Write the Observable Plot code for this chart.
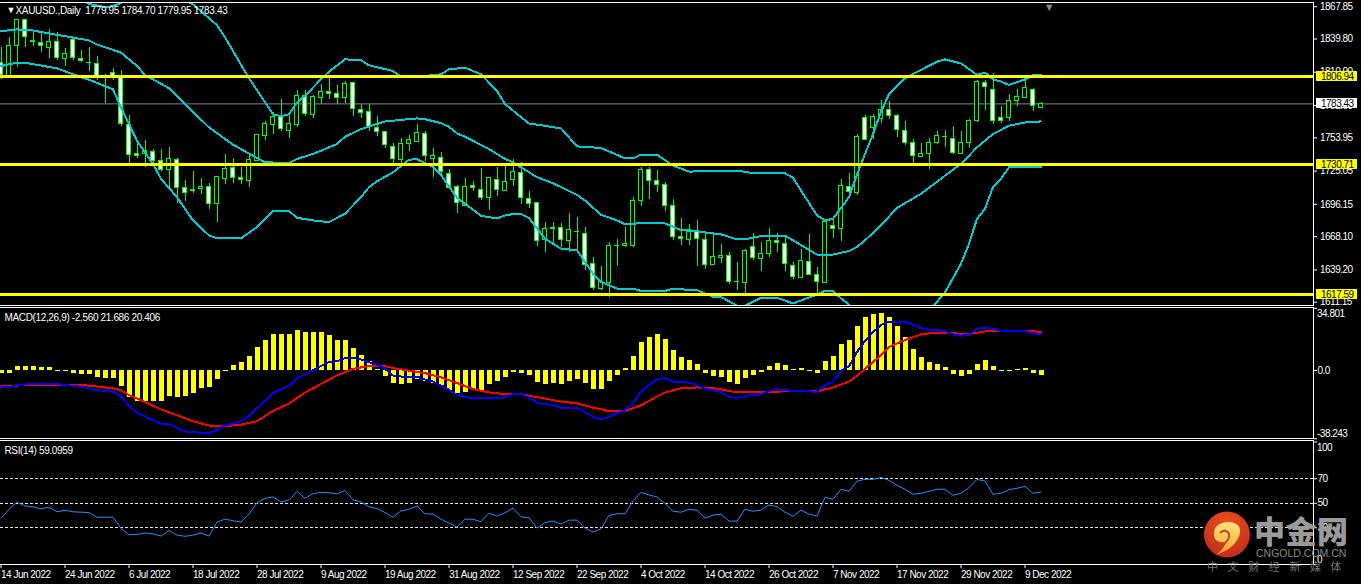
<!DOCTYPE html>
<html><head><meta charset="utf-8">
<script src="https://cdn.jsdelivr.net/npm/d3@7"></script>
<script src="https://cdn.jsdelivr.net/npm/@observablehq/plot@0.6"></script>
<style>
html,body{margin:0;padding:0;background:#000;overflow:hidden;}
#chart{position:relative;width:1361px;height:584px;background:#000;}
#chart svg{display:block;background:transparent!important;}
#wm{position:absolute;left:0;top:0;pointer-events:none;}
.w{position:absolute;white-space:nowrap;font-family:"Noto Sans CJK SC",sans-serif;}
.hd{letter-spacing:-0.35px;}
</style></head><body>
<div id="chart"></div>
<script>
const FONT='"Liberation Sans",sans-serif';
const opens=[1819.2,1807.7,1833.7,1856.7,1838,1836.5,1832.2,1837.4,1822.1,1838.6,
1822.1,1818.9,1817.8,1806.6,1810.6,1805.7,1765,1739.9,1739.9,1741.3,
1733.5,1726,1734.7,1710.5,1708.3,1709.6,1711,1696.6,1718.3,1727.8,
1719.1,1716.2,1734.1,1755.2,1765,1772.2,1759.5,1765,1790.4,1773.4,
1788.4,1794.1,1791.8,1788.4,1801.3,1778.5,1776,1762.4,1758.9,1745.7,
1734.4,1748.5,1750,1757.2,1735.6,1736.4,1722.6,1711,1694.6,1712.2,
1708.7,1701.8,1717.4,1707.6,1717.4,1723.4,1700.9,1697.5,1665.5,1675.3,
1675.6,1664.6,1671.9,1670.7,1644.7,1622.2,1628.2,1660.3,1659.9,1660.3,
1698.9,1726,1716.2,1712.8,1694.6,1668.1,1664.9,1672.7,1665.4,1643.8,
1649.9,1651.3,1628.9,1627.4,1659.1,1648.7,1653,1664.6,1661.7,1642.9,
1632.3,1646.4,1634.9,1628.2,1677.3,1675,1711,1705.8,1770.8,1762.1,
1770.2,1777.7,1772.8,1759.5,1749.1,1737.3,1739.6,1749.4,1754.7,1752.6,
1739.6,1749.4,1768.2,1801.9,1795.9,1770.8,1770.8,1786.3,1788.9,1795.9,
1779.95];
const closes=[1808.6,1833.7,1855.9,1841.4,1837.1,1833.7,1837.4,1823,1826.4,1823,
1820.4,1818.6,1806.8,1806.2,1807.4,1765.9,1739,1737.9,1742.2,1733.5,
1726,1735.6,1710.2,1706.1,1708.1,1711,1696.6,1719.7,1726.9,1719.1,
1717.4,1734.7,1756.3,1765.9,1772.2,1761.5,1765.9,1790.7,1774.5,1789.2,
1794.1,1791.8,1788.9,1800.5,1778.8,1775.4,1763,1758.9,1747.7,1735.6,
1748.5,1752,1758.1,1737.9,1737.9,1724,1710.5,1697.5,1711,1710.5,
1701.8,1719.1,1708.7,1715.7,1724.3,1701.8,1696.6,1664.6,1675,1675.1,
1665.2,1674.1,1671.7,1643.8,1623.9,1628.8,1660.3,1660.1,1662,1698.9,
1726,1716.5,1713.1,1694.9,1668.1,1666,1673.5,1666.3,1643.8,1650.7,
1651.6,1629.1,1628.7,1655.9,1649.9,1653.3,1664.6,1662.6,1644.7,1633.4,
1647.3,1634.9,1629.1,1681,1675,1712.2,1707,1754.6,1752,1771.9,
1778,1772.8,1760.7,1749.4,1738.2,1739.6,1749.1,1755.2,1754.5,1740.8,
1749.1,1768.4,1802.8,1797.9,1768.2,1768.2,1786.3,1789.2,1797,1781.4,
1783.43];
const highs=[1832.2,1841.4,1856.7,1856.7,1845.8,1845.2,1848.1,1845.2,1831.6,1838.6,
1829.9,1832.8,1825,1809.1,1814.3,1812,1773.1,1750,1752,1744.2,
1744.2,1745.7,1735.6,1716.8,1724.6,1718.3,1714.5,1719.7,1739.3,1736.4,
1727.8,1739.9,1757.2,1768.2,1776,1787.5,1773.1,1794.7,1795.3,1790.4,
1800.5,1807.7,1799,1802.5,1801.3,1782.6,1782.6,1772.2,1758.9,1749.4,
1753.7,1755.8,1765.3,1759.2,1745.1,1741,1726.3,1712.5,1718.3,1715.9,
1727.2,1719.1,1728.4,1729.2,1735,1732.1,1707.3,1698,1680.2,1680.2,
1679.3,1688,1684.5,1675.9,1649.9,1642.4,1663.4,1665.7,1676.1,1701.8,
1728.4,1727.8,1725.5,1715.1,1700.4,1683.9,1678.7,1682.2,1670.7,1670.1,
1661.1,1654.5,1645.8,1656.8,1671.2,1663.4,1675.6,1670.7,1667.8,1645.8,
1657.1,1670.1,1641.2,1682.2,1682.8,1717.4,1722.6,1757.2,1773.1,1774.5,
1786.6,1785.2,1774.5,1767.9,1752.9,1749.4,1753.7,1759.2,1760.7,1763.5,
1759.2,1770.2,1803.9,1803.9,1810,1780.9,1791.2,1795.6,1805.1,1797,
1784.7];
const lows=[1804.8,1806.8,1814.9,1832.8,1833.7,1827.9,1823,1821.2,1816.3,1820.7,
1819.2,1811.4,1803.4,1783.7,1803.9,1764.1,1731.8,1735.6,1728.4,1731.2,
1724.9,1711,1697.2,1698.9,1705.8,1704.7,1691.7,1680.7,1713.1,1714.5,
1713.3,1711,1733.5,1751.4,1757.2,1759.5,1753.5,1763,1772.2,1770.5,
1783.2,1787.2,1783.2,1783.7,1772.5,1770.8,1759.2,1754.9,1744.8,1729.8,
1729.8,1741.9,1750,1733.3,1719.7,1722,1709.6,1688.5,1694.3,1707.3,
1699.5,1690.8,1703,1707.6,1711.9,1696,1692.9,1659.7,1653.9,1660,
1659.1,1653.9,1656.2,1638.9,1621,1621,1615,1641.8,1659.1,1659.1,
1694.6,1700.4,1706.7,1690.3,1664.9,1660.6,1660.6,1641.8,1639.8,1643.8,
1644.7,1626.8,1621.6,1617.8,1647.6,1638,1649.6,1654.5,1638,1631.1,
1631.7,1634,1617.3,1628.2,1666.9,1664.3,1703.8,1703.8,1751.4,1752.3,
1766.4,1769.9,1754.3,1747.1,1731.2,1737.3,1726.6,1748.5,1745.7,1739.3,
1739.6,1744.8,1767.3,1777.4,1765.9,1766.4,1768.2,1781.1,1788.9,1776.5,
1779.95];

// Bollinger band vertices: [bar, price]
const bbUpper=[[10,1874],[11,1870.3],[12,1868.9],[13,1867.4],[14,1868.3],[15,1871.2],[16,1874],[23,1874],[24,1869.7],[25,1864],[27,1851.8],[28,1841.4],[29,1829.3],[31,1805.7],[34,1774.5],[35,1772.5],[36,1774.5],[37,1784.6],[38,1790.4],[40,1804.8],[41,1811.4],[43,1822.1],[45,1821.5],[46,1816.9],[49,1812],[50,1807.1],[53,1807.7],[55,1809.1],[56,1813.5],[58,1814.9],[60,1809.1],[62,1794.7],[63,1783.2],[66,1766.4],[68,1764.4],[70,1762.1],[72,1746.5],[75,1745.1],[78,1736.1],[79,1736.1],[80,1739.3],[82,1739.3],[84,1729.8],[86,1724.6],[92,1725.5],[94,1723.2],[98,1723.2],[99,1719.1],[102,1686.5],[103,1682.2],[104,1683.6],[106,1702.4],[107,1722],[108,1739.9],[109,1757.2],[110,1776.5],[111,1791.8],[113,1805.7],[117,1820.1],[118,1822.1],[120,1818.6],[122,1808.6],[123,1810.6],[124,1804.8],[125,1802.8],[126,1799.9],[128,1804.8],[129,1808.3],[130,1808.3]];
const bbMiddle=[[0,1846.6],[2,1848.1],[4,1847.2],[6,1844.6],[11,1838.6],[12,1835.1],[15,1827.9],[17,1816.3],[18,1808.6],[19,1804.8],[21,1797],[23,1783.2],[26,1763],[29,1748],[32,1736.4],[33,1732.7],[36,1732.1],[37,1735.6],[39,1739.9],[42,1748.5],[43,1754.9],[45,1761.5],[46,1763.8],[48,1768.2],[52,1770.8],[53,1770.2],[55,1766.7],[56,1763.5],[57,1757.8],[58,1754.9],[61,1744.2],[63,1735.6],[64,1732.7],[67,1719.7],[69,1714.5],[72,1704.4],[73,1699.5],[75,1687.1],[77,1682.2],[78,1679],[79,1679],[80,1680.2],[83,1679.6],[85,1673.8],[87,1672.7],[90,1670.1],[92,1665.7],[93,1665.7],[95,1668.6],[98,1668.9],[99,1664.9],[102,1652.5],[104,1652.5],[106,1655.6],[107,1659.1],[108,1664.9],[110,1677.9],[112,1693.1],[115,1705.3],[118,1721.1],[120,1731.2],[122,1745.7],[124,1757.2],[126,1764.4],[128,1767.3],[130,1768.2]];
const bbLower=[[0,1816.3],[2,1819.2],[3,1819.2],[7,1814.3],[9,1809.1],[11,1804.5],[14,1796.1],[15,1780.3],[17,1751.4],[19,1731.2],[20,1718.3],[22,1702.4],[24,1682.2],[26,1669.2],[27,1666.6],[30,1666.6],[32,1676.4],[34,1690.3],[36,1690.3],[37,1684.5],[39,1682.2],[41,1680.7],[43,1688],[44,1695.2],[45,1702.4],[46,1711],[47,1716.2],[49,1724],[51,1735],[52,1735.3],[54,1728.9],[55,1721.7],[57,1701.8],[60,1686.2],[62,1683.9],[63,1686.5],[64,1687.7],[65,1687.7],[66,1684.2],[68,1666.3],[70,1657.7],[72,1656.2],[74,1636],[75,1628.8],[77,1623],[79,1622.8],[80,1621],[83,1621],[84,1622.8],[86,1621.9],[87,1621.6],[89,1615.8],[90,1615.8],[92,1608],[93,1608],[95,1615],[97,1615],[99,1610.1],[102,1617.8],[103,1621],[104,1621],[105,1614.4],[106,1609.2],[107,1600],[110,1590],[115,1598],[116,1604.3],[117,1611.5],[118,1619.6],[120,1644.7],[121,1662],[122,1683.6],[123,1692.3],[124,1711],[125,1718.3],[126,1728.4],[127,1728.4],[130,1728.4]];

const levels=[1806.94,1730.71,1617.59];
const lastPrice=1783.43;
const priceTicks=[1867.85,1839.80,1810.90,1782.00,1753.95,1725.05,1696.15,1668.10,1639.20,1611.15];

const macdHist=[-1.9,-1.9,2.3,2.3,2.3,1.7,1.7,-0.4,-0.8,-1.7,-2.3,-2.3,-4,-4.5,-4.5,-9.1,-15.3,-17.6,-17.6,-17.6,-17.6,-14.4,-15.3,-14.6,-13.1,-10.2,-9.5,-5.1,-0.4,2.8,4.5,7.9,13.1,17,20.4,20.4,19.9,22.1,21,21,21,19.3,17,16.5,12.5,8.5,5.1,0.6,-3.4,-7.4,-7.9,-7.4,-5.1,-6.2,-7.4,-8.5,-11.4,-13.1,-12.5,-10.8,-11.9,-7.9,-6.2,-4,-1.1,-1.7,-2.8,
-6.8,-7.9,-7.4,-7.9,-6.2,-5.1,-7.4,-10.8,-10.8,-6.2,-2.8,1.1,7.9,15.9,18.7,19.9,17.6,11.4,7.4,5.7,3.4,-1.7,-3.4,-4,-6.8,-7.9,-4.5,-2.8,-1.1,2.3,4,2.8,0.6,1.1,-0.6,-1.7,5.1,7.9,14.8,17,24.4,29.5,31.2,31.8,29.5,24.4,18.7,11.9,7.4,4.5,3.4,1.7,-2.3,-3.4,-2.3,3.4,5.7,2.3,-0.6,-0.6,0.6,1.1,-1.7,-2.56];
const macdBlue=[[0,-9.5],[1,-9.5],[2,-8.1],[4,-7.6],[7,-7.6],[8,-8.1],[10,-9.1],[12,-11],[14,-11.9],[15,-14.6],[16,-19.9],[17,-23.7],[19,-27.8],[20,-29.7],[21,-29.9],[22,-32.2],[23,-34.1],[24,-34.6],[26,-35],[27,-33.5],[28,-30.8],[30,-28.4],[31,-25.5],[32,-21.2],[33,-17],[34,-12.7],[36,-8.5],[37,-4.4],[38,-2.3],[40,2.5],[41,4.7],[42,5.1],[43,7],[44,7],[45,6.2],[46,4.7],[47,3.2],[48,0.9],[49,-2.8],[50,-3.4],[52,-3.4],[53,-5.1],[54,-6.1],[55,-8.5],[56,-10.8],[57,-13.8],[59,-15.7],[61,-15.5],[63,-15.1],[64,-13.2],[65,-13.2],[66,-15.1],[67,-18],[68,-18.9],[69,-19.3],[70,-20.8],[72,-20.8],[73,-23.3],[74,-26.1],[75,-27.4],[76,-25.9],[78,-22.3],[79,-18],[80,-11.9],[81,-8.1],[82,-5.1],[83,-4.2],[84,-6.2],[86,-6.8],[87,-7.9],[88,-10.4],[89,-11],[90,-12.3],[91,-14.6],[92,-15.5],[93,-14.2],[95,-13.4],[96,-11.5],[97,-10.4],[98,-11],[99,-11.4],[102,-11.9],[103,-8.1],[104,-6.2],[105,0],[106,2.3],[107,10.4],[108,16.5],[109,21.4],[110,25.5],[111,27.4],[113,27.4],[114,25.5],[115,23.7],[116,22.9],[118,22.1],[119,20.2],[120,19.5],[121,19.9],[122,23.3],[123,24],[124,23.3],[125,22.1],[128,22.1],[129,20.8],[130,20.406]];
const macdRed=[[0,-8.9],[2,-8.5],[3,-7.9],[5,-7.9],[9,-7.9],[11,-8.5],[14,-10],[15,-11],[16,-13.8],[18,-17.6],[20,-21.8],[22,-25],[24,-28.4],[26,-30.8],[28,-31.2],[30,-30.3],[32,-28.4],[34,-22.7],[36,-18.5],[38,-12.3],[40,-7.6],[42,-2.8],[44,0.9],[46,2.5],[48,2.3],[50,0.6],[53,-1.5],[55,-3.8],[57,-7],[59,-10.4],[61,-12.3],[63,-13.2],[65,-13.2],[66,-14.2],[68,-15.7],[70,-17.4],[72,-18.4],[74,-20.8],[76,-22.7],[78,-22.7],[80,-19.5],[82,-14.6],[83,-12.3],[85,-10],[87,-9.5],[89,-9.8],[91,-11.4],[92,-12.3],[95,-12.3],[97,-11.9],[99,-11.4],[102,-11.7],[104,-9.5],[106,-6.2],[107,-3.2],[108,0.9],[110,8.5],[111,13.2],[113,17],[115,20.2],[117,21.2],[119,20.8],[121,20.4],[123,21.8],[125,22.3],[128,22.1],[130,21.686]];
const macdTicks=[34.801,0,-38.243];

const rsi=[37.6,45.1,50.8,47.8,47,45.4,46.8,43,44.3,43,42.7,42.4,38.6,38.6,38.6,29.5,24.3,24.6,25.7,25.1,23.2,27.8,24,23,24,25.7,23.2,34.6,37,35.7,34.6,41.1,50.3,54,55.1,51.1,52.7,59.7,54,57.8,58.9,58.6,57.6,60.5,52.7,51.1,47,45.7,42.4,38.6,43.8,45.1,47.6,41.4,41.1,37,33.8,30.5,37,37,34.9,41.9,39.5,42.2,45.9,38.9,38.1,
29.7,34.3,35.4,33,36.2,36.2,29.7,26.5,29.2,40,41.4,41.4,51.9,58.9,56.8,55.1,50,43.5,42.7,45.1,44.3,37.8,40.3,41.1,35.4,35.4,45.1,43.5,44.3,48.6,47.3,42.7,39.5,44.3,41.1,39.5,54.9,53.2,61.4,59.7,68.1,69.5,69.5,71.1,68.7,64.6,61.4,57.3,58.1,59.7,61.4,61.4,56.5,58.1,62.7,69.5,68.1,57.3,58.1,61.1,62.2,63.8,58.1,59.0959];
const rsiLevels=[70,50,30];
const dateTicks=[0,8,16,24,32,40,48,56,64,72,80,88,96,104,112,120,128];
const dateLabels=["14 Jun 2022","24 Jun 2022","6 Jul 2022","18 Jul 2022","28 Jul 2022","9 Aug 2022","19 Aug 2022","31 Aug 2022","12 Sep 2022","22 Sep 2022","4 Oct 2022","14 Oct 2022","26 Oct 2022","7 Nov 2022","17 Nov 2022","29 Nov 2022","9 Dec 2022"];

const bars=d3.range(opens.length).map(i=>({i,o:opens[i],h:highs[i],l:lows[i],c:closes[i]}));
const xScale={domain:[0,170.125],range:[0.5,1361.5]};
const FS=10;
const base={width:1361,marginLeft:0,marginRight:48,style:{background:"transparent",color:"#fff",fontFamily:FONT,fontSize:FS+"px",letterSpacing:"-0.5px"}};
const GREEN="#00ff00",CYAN="#00ccd4",YEL="#ffff00",WHITE="#ffffff";
const crisp={shapeRendering:"crispEdges"};
const borders=()=>[Plot.frame({anchor:"top",stroke:WHITE}),Plot.frame({anchor:"bottom",stroke:WHITE}),Plot.frame({anchor:"right",stroke:WHITE})];
const head=(t,dx,dy)=>Plot.text([t],{frameAnchor:"top-left",dx,dy,fill:"#fff",textAnchor:"start",lineAnchor:"middle",fontSize:FS,className:"hd"});

const main=Plot.plot({...base,height:306,marginTop:2,marginBottom:1,
 x:{...xScale,axis:null},
 y:{domain:[1611.15,1867.85],range:[301.7,6.2]},
 marks:[
  Plot.ruleY([lastPrice],{stroke:"#808890"}),
  Plot.ruleX(bars,{x:"i",y1:"l",y2:"h",stroke:GREEN,...crisp,clip:true}),
  Plot.rect(bars,{x1:d=>d.i-0.25,x2:d=>d.i+0.25,y1:"o",y2:"c",fill:d=>d.c<d.o?WHITE:"#000",stroke:GREEN,...crisp,clip:true}),
  ...[bbUpper,bbMiddle,bbLower].map(b=>Plot.line(b,{x:d=>d[0],y:d=>d[1],stroke:CYAN,strokeWidth:2,curve:"linear",clip:true,...crisp})),
  Plot.ruleY(levels,{stroke:YEL,strokeWidth:3,...crisp}),
  Plot.axisY({anchor:"right",ticks:priceTicks,tickSize:3,tickPadding:3.5,tickFormat:d=>d.toFixed(2),stroke:WHITE,fill:WHITE,fontSize:FS,textAnchor:"start"}),
  ...borders(),
  Plot.rect(levels,{x1:164.4,x2:169.5,y1:d=>d-4.4,y2:d=>d+4.4,fill:YEL,...crisp}),
  Plot.rect([lastPrice],{x1:164.4,x2:169.5,y1:d=>d-4.4,y2:d=>d+4.4,fill:WHITE,...crisp}),
  Plot.text([...levels,lastPrice],{x:165,y:d=>d,text:d=>d.toFixed(2),fill:"#000",textAnchor:"start",fontSize:FS}),
  Plot.text(["\u25BC"],{x:131,y:1867.5,fill:"#808890",fontSize:11}),
  Plot.text(["\u25BC"],{frameAnchor:"top-left",dx:6,dy:8,fill:"#fff",fontSize:9,lineAnchor:"middle"}),
  head("XAUUSD.,Daily\u00A0\u00A01779.95 1784.70 1779.95 1783.43",15,8.5)
 ]});

const macd=Plot.plot({...base,height:134,marginTop:1,marginBottom:2,
 x:{...xScale,axis:null},
 y:{domain:[-38.243,34.801],range:[132.3,1.8]},
 marks:[
  Plot.ruleX(macdHist,{x:(d,i)=>i,y1:()=>0,y2:d=>d,stroke:YEL,strokeWidth:5,...crisp}),
  Plot.line(macdRed,{x:d=>d[0],y:d=>d[1],stroke:"#ff0000",strokeWidth:2,...crisp}),
  Plot.line(macdBlue,{x:d=>d[0],y:d=>d[1],stroke:"#0000ff",strokeWidth:2,...crisp}),
  Plot.axisY({anchor:"right",ticks:macdTicks,tickSize:3,tickPadding:1,tickFormat:d=>d===0?"0.0":"",stroke:WHITE,fill:WHITE,fontSize:FS,textAnchor:"start"}),
  Plot.text(macdTicks.slice(0,1),{x:164.5,y:d=>d,text:d=>d.toFixed(3),fill:WHITE,textAnchor:"start",lineAnchor:"top",dy:2,fontSize:FS}),
  Plot.text(macdTicks.slice(2),{x:164.5,y:d=>d,text:d=>d.toFixed(3),fill:WHITE,textAnchor:"start",lineAnchor:"bottom",dy:-2,fontSize:FS}),
  ...borders(),
  head("MACD(12,26,9) -2.560 21.686 20.406",4,10)
 ]});

const rsiPlot=Plot.plot({...base,height:144,marginTop:0,marginBottom:20,
 x:{...xScale,axis:null},
 y:{domain:[0,100],range:[124,1.5]},
 marks:[
  Plot.ruleY(rsiLevels,{stroke:"#e8e8e8",strokeDasharray:"3,2",...crisp}),
  Plot.line(rsi,{x:(d,i)=>i,y:d=>d,stroke:"#1e90ff",strokeWidth:1}),
  Plot.axisY({anchor:"right",ticks:[...rsiLevels,100,0],tickSize:3,tickPadding:1,tickFormat:d=>(d===100||d===0)?"":String(d),stroke:WHITE,fill:WHITE,fontSize:FS,textAnchor:"start"}),
  Plot.text([100],{x:164.5,y:d=>d,text:d=>String(d),fill:WHITE,textAnchor:"start",lineAnchor:"top",dy:2,fontSize:FS}),
  Plot.text([0],{x:164.5,y:d=>d,text:d=>String(d),fill:WHITE,textAnchor:"start",lineAnchor:"bottom",dy:-2,fontSize:FS}),
  Plot.axisX({anchor:"bottom",ticks:dateTicks,tickSize:4,tickPadding:2,tickFormat:d=>dateLabels[dateTicks.indexOf(d)],stroke:WHITE,fill:WHITE,fontSize:FS,textAnchor:"start"}),
  ...borders(),
  head("RSI(14) 59.0959",4,10)
 ]});

const root=document.getElementById("chart");
root.append(main,macd,rsiPlot);
root.insertAdjacentHTML("beforeend",`
<svg id="wm" width="1361" height="584" xmlns="http://www.w3.org/2000/svg">
 <defs>
  <radialGradient id="rg" cx="50%" cy="25%" r="80%"><stop offset="0" stop-color="#e9501a"/><stop offset="1" stop-color="#bf2a1c"/></radialGradient>
  <linearGradient id="gg" x1="0" y1="0" x2="0" y2="1"><stop offset="0" stop-color="#ffe27a"/><stop offset="0.6" stop-color="#fbc04e"/><stop offset="1" stop-color="#e8912a"/></linearGradient>
 </defs>
 <circle cx="1227" cy="534.5" r="23" fill="url(#rg)"/>
 <path d="M1216,555C1230,550 1239,542 1240,532C1241,524 1233,522 1228,522C1220,522 1213,527 1214,535C1214,541 1220,543 1226,542C1225,547 1220,552 1216,555Z" fill="url(#gg)"/>
 <path d="M1220,533C1224,529 1230,531 1229,537C1228,541 1225,543 1223,544" fill="none" stroke="#d2431c" stroke-width="2"/>
</svg>
<div class="w" style="left:1254px;top:508px;font-size:31px;line-height:44px;font-weight:900;color:#9b9b9b;letter-spacing:0.5px">中金网</div>
<div class="w" style="left:1256px;top:547px;font-family:'Liberation Sans',sans-serif;font-size:10.5px;line-height:12px;color:#8a8a8a">CNGOLD.COM.CN</div>
<div class="w" style="left:1207px;top:558px;font-size:11px;line-height:16px;color:#777;letter-spacing:9.6px">中文财经新媒体</div>
`);
</script></body></html>
